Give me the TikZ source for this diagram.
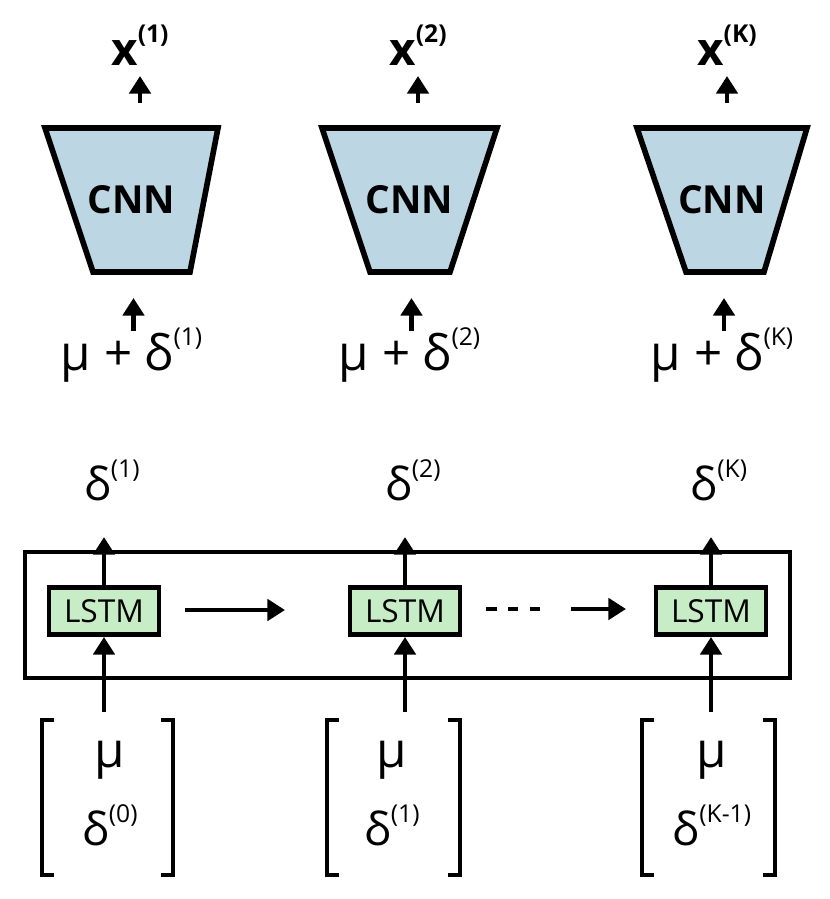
\documentclass[tikz,border=0pt]{standalone}
\usepackage{fontspec}
\setmainfont{Open Sans}
\usetikzlibrary{arrows.meta,positioning}
\definecolor{cnnblue}{HTML}{BCD6E3}
\definecolor{lstmgreen}{HTML}{C6EDC6}
\newcommand{\sups}[1]{\raisebox{0.5em}{\fontsize{7}{8}\selectfont(#1)}}
\tikzset{
  txt/.style={font=\fontsize{13}{15}\selectfont, inner sep=1pt},
  up/.style={-{Triangle[length=5pt,width=6pt]}, line width=1.4pt},
  lstmbox/.style={draw, line width=1.4pt, fill=lstmgreen, minimum width=1.1cm, minimum height=0.47cm, inner xsep=1pt, font=\fontsize{9}{11}\selectfont},
}
\begin{document}
\begin{tikzpicture}[x=0.01cm,y=-0.01cm]
  \useasboundingbox (0,0) rectangle (830,899);

  % encoder frame
  \draw[line width=1.4pt] (25,552) rectangle (790,678);

  \foreach \c/\xc/\xl/\tc/\bk/\bw/\tl/\tr/\bl/\br/\k/\p in {1/140/104/110/42/131/45/218/93/190/1/0, 2/418/405/392/327/133/322/497/370/450/2/1, 3/727/711/712/642/133/637/807/686/764/K/K-1} {
    % CNN decoder
    \draw[line width=1.6pt, fill=cnnblue] (\tl,128) -- (\tr,128) -- (\br,272) -- (\bl,272) -- cycle;
    \node[font=\fontsize{11}{13}\selectfont\bfseries] (cnn\c) at ({(\tl+\tr)/2},200) {CNN};
    \node[txt, font=\fontsize{13}{15}\selectfont\bfseries] (x\c) at (\xc,45) {x\sups{\k}};
    \coordinate (top\c) at (\xc,103);
    \draw[up] (top\c) -- ++(0,-27);
    \node[txt, font=\fontsize{14}{16}\selectfont] (in\c) at ({(\tl+\tr)/2},355) {μ + δ\sups{\k}};
    \draw[up] ({(\tl+\tr)/2+2},331) -- ++(0,-33);

    % LSTM
    \node[lstmbox] (lstm\c) at (\xl,611) {LSTM};
    \node[txt] (d\c) at (\xl+8,480) {δ\sups{\k}};
    \draw[up] (lstm\c.north) -- ++(0,-48);

    % input vector
    \node[txt, font=\fontsize{14}{16}\selectfont] (mu\c) at (\tc,760) {μ};
    \node[txt] (dp\c) at (\tc,825) {δ\sups{\p}};
    \draw[line width=1.4pt] (\bk+12,720) -- (\bk,720) -- (\bk,875) -- (\bk+12,875);
    \draw[line width=1.4pt] (\bk+\bw-12,720) -- (\bk+\bw,720) -- (\bk+\bw,875) -- (\bk+\bw-12,875);
    \draw[up] (\xl,712) -- (lstm\c.south);
  }

  \draw[up] (185,610) -- (285,610);
  \draw[line width=1.4pt, dash pattern=on 3pt off 3.2pt] (486,609) -- (549,609);
  \draw[up] (571,609) -- (626,609);
\end{tikzpicture}
\end{document}
